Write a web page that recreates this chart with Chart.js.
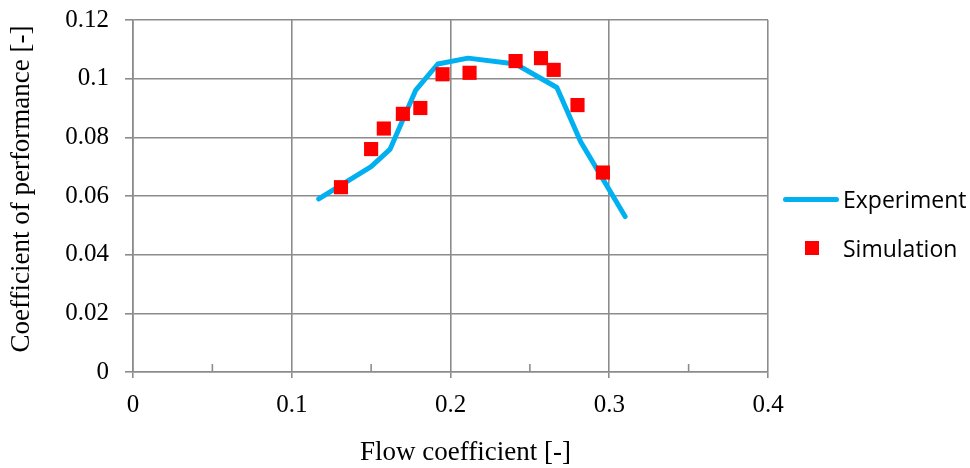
<!DOCTYPE html>
<html>
<head>
<meta charset="utf-8">
<script src="https://cdn.jsdelivr.net/npm/chart.js@4.4.0/dist/chart.umd.min.js"></script>
<style>
  body { margin: 0; background: #fff; }
  #wrap { position: relative; width: 970px; height: 468px; }
  #legend { position: absolute; left: 783px; top: 0; font-family: "Open Sans", sans-serif; font-size: 23px; color: #000; }
  .item { position: absolute; left: 0; height: 30px; line-height: 30px; white-space: nowrap; }
  .item span { position: absolute; left: 60px; top: 0; }
  .lineSym { position: absolute; left: 0; top: 13px; width: 56px; height: 5px; border-radius: 3px; background: #00b0f0; }
  .sqSym { position: absolute; left: 22px; top: 8px; width: 14px; height: 14px; background: #ff0000; }
</style>
</head>
<body>
<div id="wrap">
  <canvas id="cop" width="970" height="468"></canvas>
  <div id="legend">
    <div class="item" style="top:184px"><div class="lineSym"></div><span>Experiment</span></div>
    <div class="item" style="top:233px"><div class="sqSym"></div><span>Simulation</span></div>
  </div>
</div>
<script>
// experiment curve
var expX = [0.117, 0.150, 0.162, 0.178, 0.192, 0.211, 0.241, 0.267, 0.282, 0.310];
var expY = [0.059, 0.070, 0.076, 0.096, 0.105, 0.107, 0.105, 0.097, 0.0785, 0.053];

// simulation points
var simX = [0.131, 0.150, 0.158, 0.170, 0.181, 0.195, 0.212, 0.241, 0.257, 0.265, 0.280, 0.296];
var simY = [0.063, 0.076, 0.083, 0.088, 0.090, 0.1015, 0.102, 0.106, 0.107, 0.103, 0.091, 0.068];

var xMinorTicks = [0.05, 0.15, 0.25, 0.35];
var xTitle = 'Flow coefficient [-]';
var yTitle = 'Coefficient of performance [-]';

function pts(xs, ys) {
  return xs.map(function (x, i) { return { x: x, y: ys[i] }; });
}

var gridColor = '#8c8c8c';
var serif = "'Liberation Serif', 'Times New Roman', serif";

// minor x ticks + axis titles (placed a little off-centre like the original)
var extras = {
  id: 'extras',
  afterDraw: function (chart) {
    var ctx = chart.ctx, xs = chart.scales.x, a = chart.chartArea;
    ctx.save();
    ctx.strokeStyle = gridColor;
    ctx.lineWidth = 1.6;
    xMinorTicks.forEach(function (v) {
      var px = xs.getPixelForValue(v);
      ctx.beginPath();
      ctx.moveTo(px, a.bottom);
      ctx.lineTo(px, a.bottom - 8);
      ctx.stroke();
    });
    ctx.fillStyle = '#000';
    ctx.font = "27px " + serif;
    ctx.textAlign = 'center';
    ctx.textBaseline = 'middle';
    ctx.fillText(xTitle, (a.left + a.right) / 2 + 15, 453);
    ctx.translate(22, (a.top + a.bottom) / 2 - 7);
    ctx.rotate(-Math.PI / 2);
    ctx.fillText(yTitle, 0, 0);
    ctx.restore();
  }
};

var ctx = document.getElementById("cop");
var myChart = new Chart(ctx, {
  type: "scatter",
  data: {
    datasets: [
      {
        type: "line",
        label: "Experiment",
        data: pts(expX, expY),
        borderColor: '#00b0f0',
        borderWidth: 5,
        borderCapStyle: 'round',
        borderJoinStyle: 'round',
        pointRadius: 0,
        fill: false,
        tension: 0,
        order: 2
      },
      {
        label: "Simulation",
        data: pts(simX, simY),
        pointStyle: 'rect',
        pointRadius: 10,
        pointHoverRadius: 10,
        backgroundColor: '#ff0000',
        borderWidth: 0,
        order: 1
      }
    ]
  },
  options: {
    responsive: false,
    animation: false,
    layout: { padding: { left: 0, right: 202, top: 20, bottom: 0 } },
    plugins: { legend: { display: false }, tooltip: { enabled: false } },
    scales: {
      x: {
        type: 'linear',
        min: 0, max: 0.4,
        ticks: { stepSize: 0.1, padding: 12, color: '#000', font: { family: serif, size: 25 },
          callback: function (v) { return String(+v.toFixed(2)); } },
        grid: { color: gridColor, lineWidth: 1.6, tickLength: 6 },
        border: { color: gridColor, width: 1.6 },
        afterFit: function (s) { s.height = 96; s.paddingLeft = 0; s.paddingRight = 0; }
      },
      y: {
        min: 0, max: 0.12,
        ticks: { stepSize: 0.02, padding: 16, color: '#000', font: { family: serif, size: 25 },
          callback: function (v) { return String(+v.toFixed(2)); } },
        grid: { color: gridColor, lineWidth: 1.6, tickLength: 8 },
        border: { color: gridColor, width: 1.6 },
        afterFit: function (s) { s.width = 133; s.paddingTop = 0; s.paddingBottom = 0; }
      }
    }
  },
  plugins: [extras]
});
</script>
</body>
</html>
